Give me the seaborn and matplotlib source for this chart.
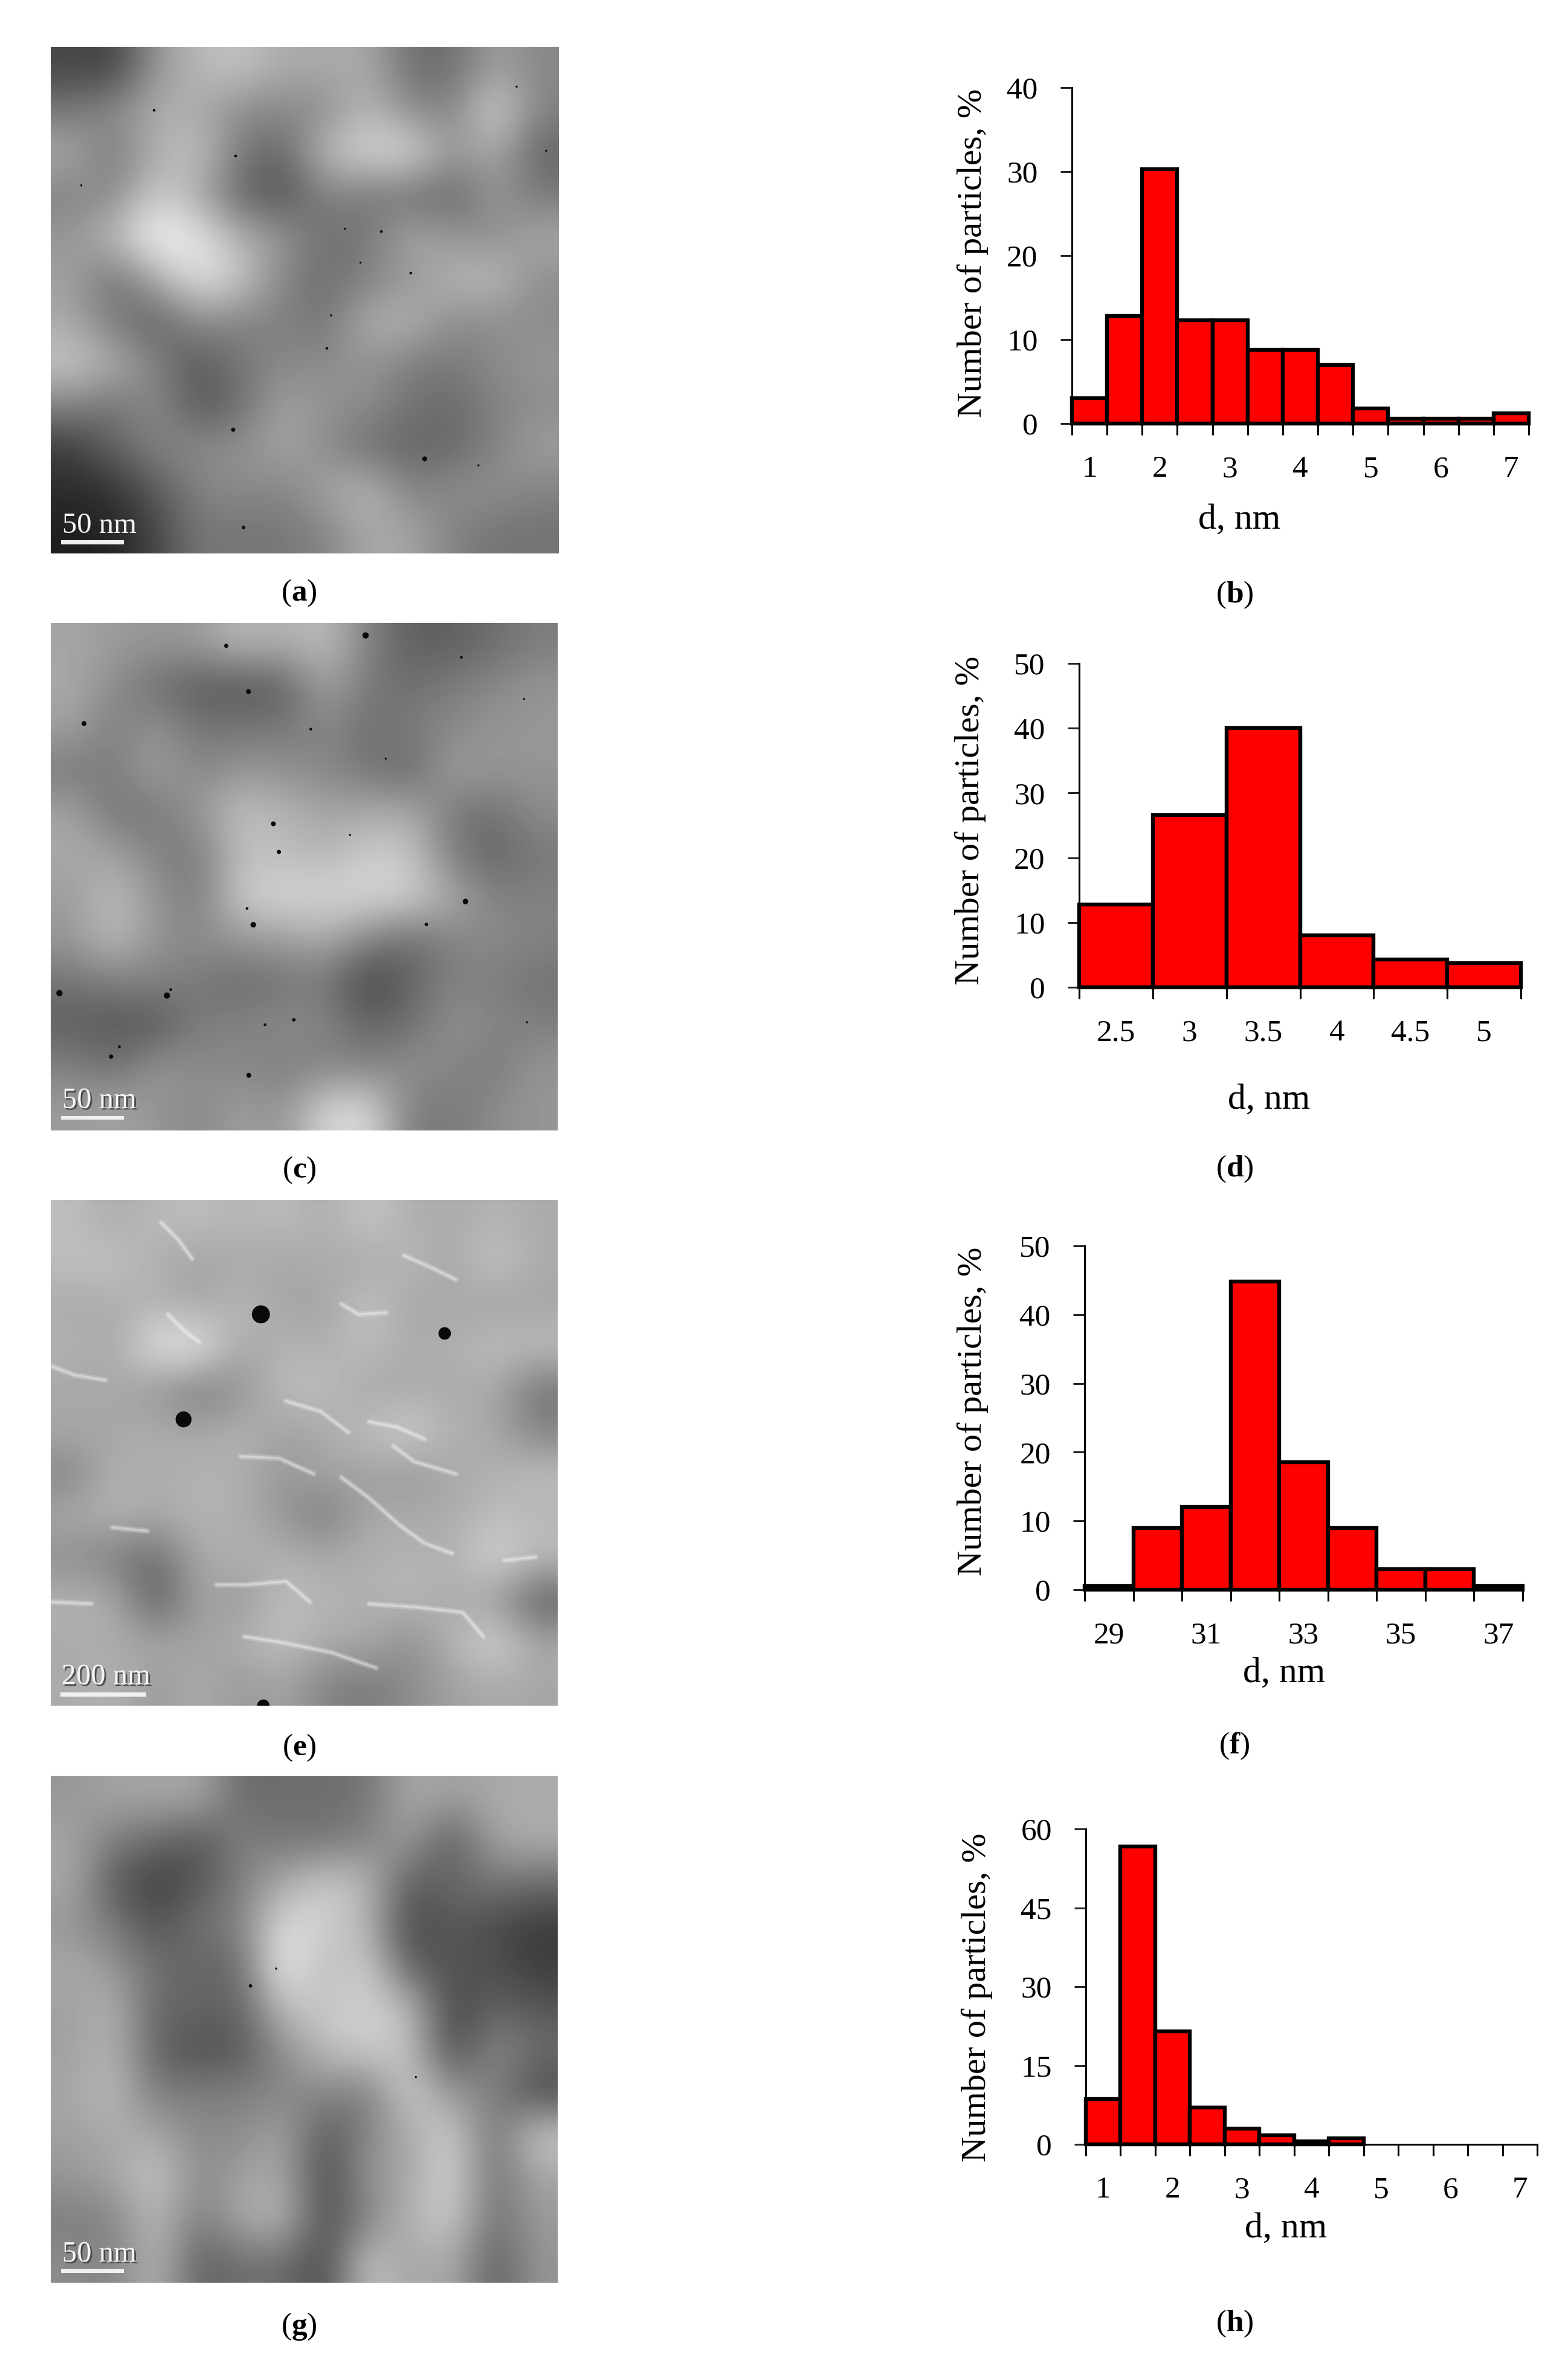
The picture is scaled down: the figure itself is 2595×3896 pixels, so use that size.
import numpy as np
import matplotlib
matplotlib.use("Agg")
import matplotlib.pyplot as plt
import matplotlib.patheffects as pe
import seaborn as sns

# ---------- histogram data ----------
b_edges = [0.75 + 0.5 * i for i in range(14)]
b_values = [3, 12.8, 30.3, 12.3, 12.3, 8.8, 8.8, 7, 1.8, 0.6, 0.6, 0.6, 1.2]
b_labels = [1, 2, 3, 4, 5, 6, 7]
b_yticks = [0, 10, 20, 30, 40]

d_edges = [2.25, 2.75, 3.25, 3.75, 4.25, 4.75, 5.25]
d_values = [12.8, 26.6, 40, 8, 4.3, 3.7]
d_labels = [2.5, 3, 3.5, 4, 4.5, 5]
d_yticks = [0, 10, 20, 30, 40, 50]

f_edges = [28.5 + i for i in range(10)]
f_values = [0.5, 9, 12, 44.8, 18.5, 9, 3, 3, 0.5]
f_labels = [29, 31, 33, 35, 37]
f_yticks = [0, 10, 20, 30, 40, 50]

h_edges = [0.75 + 0.5 * i for i in range(9)]
h_values = [8.6, 56.7, 21.5, 7, 3, 1.7, 0.6, 1.2]
h_ticks = [0.75 + 0.5 * i for i in range(14)]
h_labels = [1, 2, 3, 4, 5, 6, 7]
h_yticks = [0, 15, 30, 45, 60]

# ---------- micrographs: grey levels read on a coarse grid ----------
img_a = [
    [70,65,150,185,195,170,170,170,110,110,160,135],
    [120,140,175,170,140,135,140,185,140,130,215,130],
    [170,120,175,195,120,100,190,215,220,150,170,100],
    [130,135,205,170,100,80,130,120,110,100,150,120],
    [150,190,250,230,175,150,110,120,170,150,140,170],
    [160,110,170,230,200,130,110,130,150,180,190,140],
    [170,120,95,140,130,130,115,175,180,140,140,140],
    [200,175,130,85,120,135,140,150,125,120,140,150],
    [130,115,140,85,110,165,145,140,115,105,130,140],
    [60,100,130,140,145,165,140,110,100,105,130,160],
    [45,50,90,130,140,130,165,185,130,140,145,130],
    [30,35,70,120,115,120,130,170,165,130,115,115],
]
img_c = [
    [165,155,150,155,185,175,190,130,95,95,110,125],
    [170,140,110,90,85,90,165,120,110,125,135,150],
    [160,125,150,115,120,120,135,110,125,135,150,150],
    [120,125,160,135,150,145,135,120,100,160,150,150],
    [165,115,120,150,195,180,165,170,175,120,110,140],
    [170,165,130,120,190,190,180,205,200,125,100,120],
    [155,190,150,120,205,215,215,215,210,170,130,130],
    [150,190,145,140,150,155,170,130,105,130,140,130],
    [115,125,130,120,105,115,120,65,100,130,125,115],
    [95,85,85,125,130,140,135,100,110,145,135,125],
    [130,110,150,140,135,125,130,130,145,135,120,150],
    [155,165,150,135,160,145,215,220,125,120,140,150],
]
img_e = [
    [190,170,185,190,180,190,170,200,175,170,180,170],
    [190,195,175,160,170,165,175,165,185,165,200,170],
    [170,170,180,165,185,165,160,200,165,170,160,165],
    [180,165,230,235,165,180,175,190,170,175,190,190],
    [165,170,150,120,145,190,190,165,170,170,170,115],
    [170,165,175,165,180,160,170,190,210,175,170,130],
    [130,180,170,180,175,150,165,160,150,170,175,190],
    [170,180,170,180,175,150,120,170,170,170,190,180],
    [140,125,105,170,175,180,170,175,180,175,215,190],
    [180,175,85,165,150,190,180,175,185,170,160,90],
    [170,170,170,160,175,195,170,170,140,180,215,170],
    [170,180,150,175,150,165,130,120,140,160,170,165],
]
img_g = [
    [150,165,165,170,105,110,110,115,170,160,170,170],
    [165,125,110,85,130,115,115,130,160,85,165,175],
    [170,90,60,85,125,170,200,185,90,105,120,110],
    [150,120,80,115,130,220,210,180,70,90,75,60],
    [170,150,110,100,105,245,180,210,90,85,80,60],
    [160,180,100,105,95,190,200,210,190,65,100,85],
    [160,180,100,75,90,140,190,205,195,70,140,110],
    [165,190,120,130,125,135,135,120,210,150,130,70],
    [160,170,170,135,140,165,85,135,170,210,110,205],
    [150,165,200,140,160,170,70,150,165,215,110,165],
    [125,130,190,120,170,185,75,130,180,205,110,155],
    [140,130,185,95,110,110,70,200,160,175,90,150],
]

# dark particles: x, y, radius (picture units of each micrograph extent)
dots_a = [(568,1135,6),(1120,1219,7),(598,1417,5),(838,900,4),(575,345,4),(340,213,4),(1080,683,4),
          (995,563,4),(850,805,3),(130,430,3),(1385,145,3),(1470,330,3),(1275,1238,3),(935,653,3),(890,555,3)]
dots_c = [(950,55,9),(548,85,6),(612,217,7),(138,309,7),(792,325,4),(684,598,7),(700,679,6),(1238,822,8),
          (626,889,8),(1125,888,5),(67,1086,9),(377,1093,9),(388,1076,4),(216,1269,6),(240,1241,4),(613,1323,7),
          (743,1163,5),(660,1177,4),(1226,118,4),(1008,410,3),(1407,238,3),(1415,1170,3),(905,630,3),(608,842,4)]
dots_e = [(648,340,26),(1178,395,18),(425,643,23),(655,1469,18)]
dots_g = [(618,622,5),(692,572,3),(1095,885,3)]

ridges_e = [
    [(360,75),(410,125),(450,180)], [(880,310),(930,340),(1010,335)], [(720,590),(820,620),(900,680)],
    [(960,650),(1040,665),(1120,700)], [(590,750),(700,755),(800,800)],
    [(880,810),(960,870),(1050,950),(1120,1000),(1200,1030)], [(45,490),(110,515),(200,530)],
    [(220,955),(320,965)], [(600,1270),(700,1285),(850,1315),(980,1360)],
    [(520,1120),(610,1120),(720,1110),(790,1170)], [(1060,170),(1150,210),(1210,240)],
    [(1030,720),(1090,765),(1210,800)], [(1350,1050),(1440,1040)], [(45,1170),(160,1175)],
    [(960,1175),(1100,1185),(1230,1200),(1290,1270)], [(380,340),(430,390),(470,420)],
]

W, H = 2595, 3896
sns.set_style("ticks")
plt.rcParams["font.family"] = ["Liberation Serif", "DejaVu Serif"]
plt.rcParams["mathtext.fontset"] = "custom"
plt.rcParams["mathtext.rm"] = "Liberation Serif"
plt.rcParams["mathtext.bf"] = "Liberation Serif:bold"

fig = plt.figure(figsize=(W / 100, H / 100), dpi=100, facecolor="white")


def axes_px(x0, y0, x1, y1):
    return fig.add_axes([x0 / W, 1 - y1 / H, (x1 - x0) / W, (y1 - y0) / H])


def micrograph(box, extent, grid, dots, scale_text, bar, text_y, emboss, ridges=()):
    ax = axes_px(*box)
    ax.imshow(np.array(grid, float), cmap="gray", vmin=0, vmax=255, interpolation="bicubic",
              extent=extent, aspect="auto")
    k = (box[2] - box[0]) / (extent[1] - extent[0])
    for line in ridges:
        xs, ys = zip(*line)
        ax.plot(xs, ys, color="white", lw=7, alpha=0.2, solid_capstyle="round")
        ax.plot(xs, ys, color="white", lw=3, alpha=0.35, solid_capstyle="round")
    xs, ys, rs = zip(*dots)
    ax.scatter(xs, ys, s=[(2 * r * k * 0.72) ** 2 for r in rs], color="#0a0a0a", linewidths=0, clip_on=True)
    ax.add_patch(plt.Rectangle((bar[0], bar[2]), bar[1] - bar[0], bar[3] - bar[2], color="#f0f0f0", lw=0))
    t = ax.text(bar[0] + 3, text_y, scale_text, color="#f4f4f4", fontsize=35, ha="left", va="center")
    if emboss:
        t.set_path_effects([pe.withSimplePatchShadow(offset=(2, -2), shadow_rgbFace="#444444", alpha=0.9)])
    ax.set_xlim(extent[0], extent[1])
    ax.set_ylim(extent[2], extent[3])
    ax.axis("off")


micrograph((84, 78, 925, 916), (42, 1507, 1492, 31), img_a, dots_a, "50 nm", (72, 253, 1453, 1465), 1412, False)
micrograph((84, 1031, 923, 1871), (42, 1504, 1482, 19), img_c, dots_c, "50 nm", (72, 253, 1440, 1451), 1396, True)
micrograph((84, 1986, 923, 2823), (42, 1504, 1469, 10), img_e, dots_e, "200 nm", (70, 318, 1430, 1442), 1386, True, ridges_e)
micrograph((84, 2939, 923, 3778), (42, 1504, 1478, 16), img_g, dots_g, "50 nm", (72, 253, 1438, 1450), 1396, True)


def histogram(box, edges, values, labels, yticks, ymax, all_edges=None, xlab_px=None, ylab_px=None):
    ax = axes_px(*box)
    edges = list(edges)
    centers = [(a + b) / 2 for a, b in zip(edges[:-1], edges[1:])]
    sns.histplot(x=centers, weights=values, bins=edges, color="#ff0000", edgecolor="black",
                 linewidth=4.6, alpha=1, ax=ax)
    for p in ax.patches:
        p.set_clip_on(False)
        p.set_zorder(3)
    major = edges if all_edges is None else list(all_edges)
    ax.set_xlim(major[0], major[-1])
    ax.set_ylim(0, ymax)
    ax.set_xticks(major)
    ax.set_xticklabels([])
    ax.set_xticks(labels, [str(v) for v in labels], minor=True)
    ax.set_yticks(yticks)
    ax.tick_params(axis="x", which="major", length=13.5, width=2.2, direction="out", color="black")
    ax.tick_params(axis="x", which="minor", length=0, pad=38, labelsize=37, labelcolor="black")
    ax.tick_params(axis="y", which="major", length=13.5, width=2.2, pad=27, labelsize=37, labelcolor="black")
    sns.despine(ax=ax)
    for s in ("left", "bottom"):
        ax.spines[s].set_linewidth(2.2)
        ax.spines[s].set_color("black")
    ax.set_xlabel("d, nm", fontsize=43, color="black")
    ax.set_ylabel("Number of particles, %", fontsize=42, color="black")
    bw, bh = box[2] - box[0], box[3] - box[1]
    ax.xaxis.set_label_coords((xlab_px[0] - box[0]) / bw, (box[3] - xlab_px[1]) / bh)
    ax.yaxis.set_label_coords((ylab_px[0] - box[0]) / bw, (box[3] - ylab_px[1]) / bh)
    ax.xaxis.label.set_va("center")
    ax.yaxis.label.set_va("center")
    return ax


histogram((1774, 145, 2530, 701), b_edges, b_values, b_labels, b_yticks, 40, xlab_px=(2051, 861), ylab_px=(1610, 419))
histogram((1786, 1098, 2517, 1634), d_edges, d_values, d_labels, d_yticks, 50, xlab_px=(2100, 1821), ylab_px=(1606, 1358))
histogram((1795, 2062, 2520, 2631), f_edges, f_values, f_labels, f_yticks, 50, xlab_px=(2125, 2770), ylab_px=(1610, 2336))
histogram((1797, 3027, 2544, 3549), h_edges, h_values, h_labels, h_yticks, 60, all_edges=h_ticks, xlab_px=(2128, 3689), ylab_px=(1617, 3306))

panels = [("a", 495, 982), ("b", 2043, 985), ("c", 495, 1937), ("d", 2043, 1935),
          ("e", 495, 2893), ("f", 2043, 2890), ("g", 495, 3850), ("h", 2043, 3846)]
for letter, x, y in panels:
    fig.text(x / W, 1 - y / H, "($\\mathbf{%s}$)" % letter, fontsize=37, ha="center", va="center", color="black")

fig.savefig("out.png", dpi=100, facecolor="white")
